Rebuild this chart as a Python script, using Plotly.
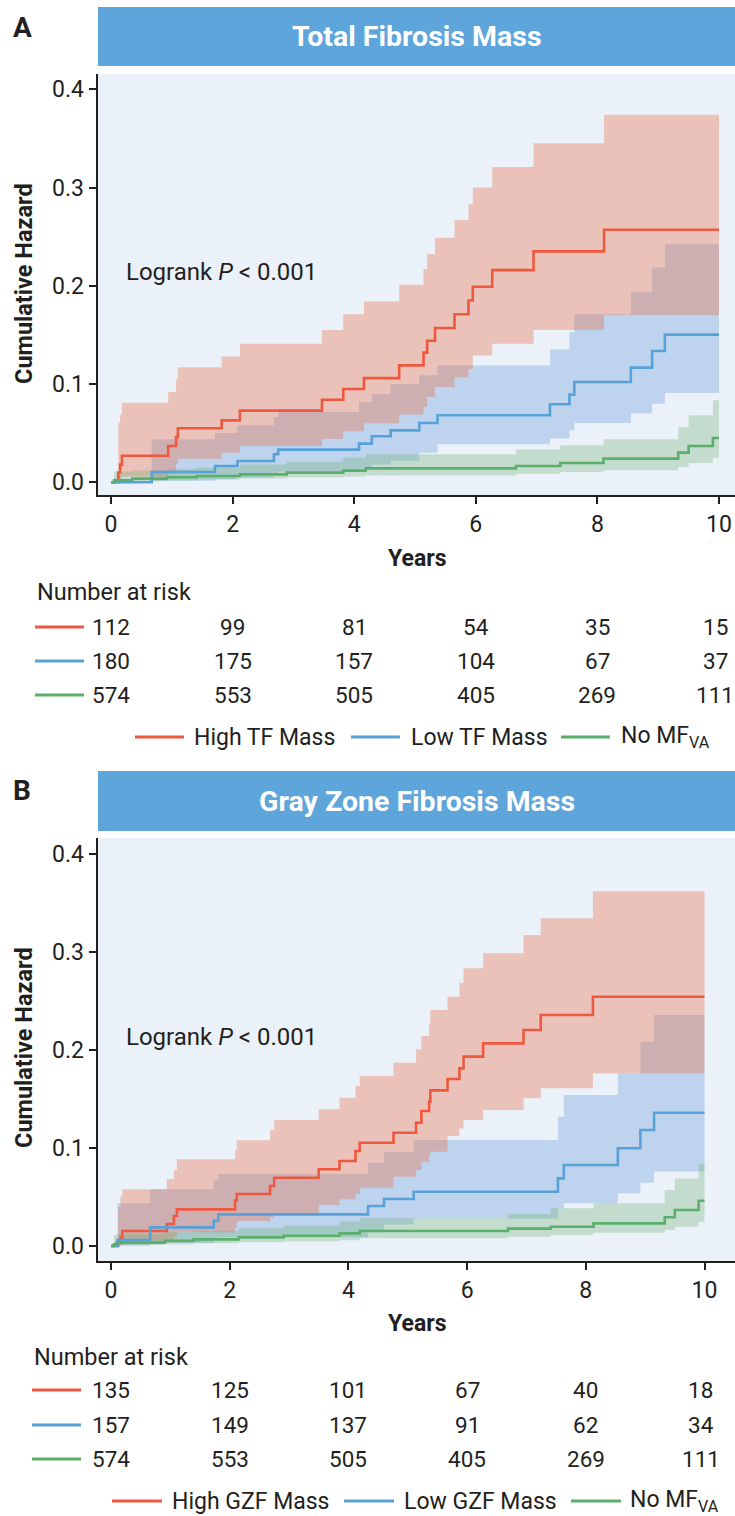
import plotly.graph_objects as go

W, H = 735, 1516
def PX(x): return x / W
def PY(y): return 1 - y / H

FONT = "Roboto, Open Sans, sans-serif"
TXT = "#231f20"

# ---------------- Panel A : Total Fibrosis Mass ----------------
a_high_t  = [0, 0.12, 0.15, 0.18, 0.94, 1.07, 1.10, 1.82, 2.12, 3.47, 3.82, 4.16, 4.74, 5.14, 5.20, 5.33, 5.65, 5.88, 5.95, 6.27, 6.95, 8.11, 10.0]
a_high_h  = [0, 0.010, 0.018, 0.027, 0.037, 0.046, 0.055, 0.063, 0.073, 0.084, 0.095, 0.106, 0.119, 0.132, 0.144, 0.157, 0.171, 0.185, 0.199, 0.216, 0.235, 0.257, 0.257]
a_high_lo = [0, 0.001, 0.003, 0.006, 0.012, 0.018, 0.024, 0.030, 0.037, 0.044, 0.052, 0.060, 0.069, 0.077, 0.087, 0.097, 0.107, 0.115, 0.129, 0.141, 0.155, 0.170, 0.170]
a_high_hi = [0, 0.061, 0.069, 0.081, 0.092, 0.105, 0.117, 0.128, 0.141, 0.155, 0.171, 0.184, 0.201, 0.217, 0.232, 0.249, 0.267, 0.283, 0.300, 0.321, 0.345, 0.374, 0.374]

a_low_t  = [0, 0.67, 1.71, 2.08, 2.68, 2.75, 4.08, 4.29, 4.60, 5.07, 5.37, 7.22, 7.54, 7.62, 8.55, 8.90, 9.11, 10.0]
a_low_h  = [0, 0.0105, 0.0166, 0.0217, 0.0285, 0.0333, 0.0394, 0.0468, 0.0529, 0.0604, 0.0682, 0.0794, 0.0892, 0.1021, 0.1167, 0.1337, 0.1503, 0.1503]
a_low_lo = [0, 0.0015, 0.003, 0.005, 0.008, 0.011, 0.014, 0.018, 0.022, 0.030, 0.0387, 0.0445, 0.0529, 0.0604, 0.0699, 0.080, 0.0909, 0.0909]
a_low_hi = [0, 0.0437, 0.0502, 0.058, 0.0665, 0.0716, 0.0817, 0.0899, 0.0997, 0.1089, 0.119, 0.1354, 0.153, 0.171, 0.194, 0.2185, 0.2422, 0.2422]

a_no_t  = [0, 0.05, 0.35, 0.92, 1.41, 2.12, 2.89, 3.82, 4.19, 6.66, 7.39, 8.10, 9.33, 9.50, 9.90, 10.0]
a_no_h  = [0, 0.002, 0.0037, 0.0051, 0.0064, 0.0081, 0.0098, 0.0119, 0.0142, 0.0166, 0.0197, 0.0241, 0.0302, 0.037, 0.0451, 0.0451]
a_no_lo = [0, 0.0003, 0.001, 0.0018, 0.0028, 0.0038, 0.0048, 0.0058, 0.0068, 0.0088, 0.0105, 0.0122, 0.0156, 0.0197, 0.0247, 0.0247]
a_no_hi = [0, 0.011, 0.012, 0.0135, 0.015, 0.018, 0.021, 0.025, 0.0285, 0.0333, 0.0377, 0.0438, 0.0563, 0.0682, 0.0835, 0.0835]

a_risk_high = [112, 99, 81, 54, 35, 15]
a_risk_low  = [180, 175, 157, 104, 67, 37]
a_risk_no   = [574, 553, 505, 405, 269, 111]
a_names = ["High TF Mass", "Low TF Mass", "No MF<sub>VA</sub>"]

# ---------------- Panel B : Gray Zone Fibrosis Mass ----------------
b_high_t  = [0, 0.12, 0.16, 0.19, 0.94, 1.06, 1.11, 2.09, 2.12, 2.68, 2.75, 3.50, 3.85, 4.12, 4.19, 4.76, 5.14, 5.23, 5.36, 5.38, 5.67, 5.87, 5.94, 6.27, 6.95, 7.24, 8.12, 10.0]
b_high_h  = [0, 0.0044, 0.0085, 0.0153, 0.0224, 0.0306, 0.0374, 0.0463, 0.0531, 0.0612, 0.0697, 0.0783, 0.0867, 0.0969, 0.1054, 0.1156, 0.1258, 0.1378, 0.1473, 0.1588, 0.1704, 0.1813, 0.1932, 0.2068, 0.2204, 0.2357, 0.2544, 0.2544]
b_high_lo = [0, 0.0, 0.001, 0.003, 0.006, 0.010, 0.014, 0.019, 0.0255, 0.029, 0.0316, 0.0418, 0.0476, 0.053, 0.0595, 0.0707, 0.0776, 0.086, 0.0929, 0.0962, 0.1122, 0.120, 0.1286, 0.1388, 0.1507, 0.1609, 0.176, 0.176]
b_high_hi = [0, 0.040, 0.0514, 0.0578, 0.0684, 0.0776, 0.0884, 0.098, 0.108, 0.1184, 0.1286, 0.1395, 0.1513, 0.1633, 0.1735, 0.187, 0.2007, 0.2143, 0.2272, 0.2408, 0.2544, 0.2687, 0.2833, 0.2986, 0.3173, 0.3344, 0.362, 0.362]

b_low_t  = [0, 0.11, 0.66, 1.73, 1.81, 4.33, 4.60, 5.10, 7.53, 7.63, 8.54, 8.92, 9.15, 10.0]
b_low_h  = [0, 0.0061, 0.019, 0.0258, 0.0323, 0.0408, 0.048, 0.0554, 0.069, 0.0827, 0.0997, 0.1184, 0.136, 0.136]
b_low_lo = [0, 0.0003, 0.003, 0.006, 0.009, 0.014, 0.022, 0.028, 0.0384, 0.0435, 0.0537, 0.0646, 0.0759, 0.0759]
b_low_hi = [0, 0.0435, 0.0578, 0.0673, 0.0735, 0.085, 0.0962, 0.1082, 0.132, 0.154, 0.176, 0.2085, 0.2357, 0.2357]

b_no_t  = [0, 0.05, 0.10, 0.91, 1.39, 2.15, 2.91, 3.85, 4.19, 6.69, 7.41, 8.13, 9.33, 9.50, 9.90, 10.0]
b_no_h  = [0, 0.0017, 0.0034, 0.0054, 0.0068, 0.0088, 0.0105, 0.0129, 0.0153, 0.0177, 0.0197, 0.0231, 0.0293, 0.0367, 0.0462, 0.0462]
b_no_lo = [0, 0.0003, 0.001, 0.0018, 0.0028, 0.0038, 0.0048, 0.0058, 0.0078, 0.0095, 0.0112, 0.0136, 0.0163, 0.0197, 0.0248, 0.0248]
b_no_hi = [0, 0.011, 0.012, 0.014, 0.015, 0.018, 0.021, 0.025, 0.0282, 0.0327, 0.0384, 0.0435, 0.0571, 0.069, 0.0837, 0.0837]

b_risk_high = [135, 125, 101, 67, 40, 18]
b_risk_low  = [157, 149, 137, 91, 62, 34]
b_risk_no   = [574, 553, 505, 405, 269, 111]
b_names = ["High GZF Mass", "Low GZF Mass", "No MF<sub>VA</sub>"]

risk_times = [0, 2, 4, 6, 8, 10]
x_ticks = [0, 2, 4, 6, 8, 10]
y_ticks = [0.0, 0.1, 0.2, 0.3, 0.4]

RED, BLUE, GREEN = "rgb(239,88,62)", "rgb(88,160,216)", "rgb(90,175,108)"
RED_F, BLUE_F, GREEN_F = "rgba(235,97,49,0.32)", "rgba(106,158,218,0.35)", "rgba(105,171,102,0.30)"

fig = go.Figure()

def add_panel(xa, ya, high, low, no):
    for (t, h, lo, hi), fc in [(low, BLUE_F), (high, RED_F), (no, GREEN_F)]:
        fig.add_trace(go.Scatter(x=t, y=lo, mode="lines", line=dict(width=0, shape="hv"),
                                 xaxis=xa, yaxis=ya, showlegend=False, hoverinfo="skip"))
        fig.add_trace(go.Scatter(x=t, y=hi, mode="lines", line=dict(width=0, shape="hv"),
                                 fill="tonexty", fillcolor=fc,
                                 xaxis=xa, yaxis=ya, showlegend=False, hoverinfo="skip"))
    for (t, h, lo, hi), c in [(high, RED), (low, BLUE), (no, GREEN)]:
        fig.add_trace(go.Scatter(x=t, y=h, mode="lines", line=dict(width=2.6, shape="hv", color=c),
                                 xaxis=xa, yaxis=ya, showlegend=False))

add_panel("x", "y", (a_high_t, a_high_h, a_high_lo, a_high_hi),
          (a_low_t, a_low_h, a_low_lo, a_low_hi), (a_no_t, a_no_h, a_no_lo, a_no_hi))
add_panel("x2", "y2", (b_high_t, b_high_h, b_high_lo, b_high_hi),
          (b_low_t, b_low_h, b_low_lo, b_low_hi), (b_no_t, b_no_h, b_no_lo, b_no_hi))

axis_common = dict(showgrid=False, zeroline=False, showline=True, linecolor="#231f20", linewidth=2,
                   ticks="outside", ticklen=7, tickwidth=2, tickcolor="#231f20",
                   tickfont=dict(family=FONT, size=23, color=TXT))

# geometry in reference pixels
xA0, xA10 = 111, 719
yA0, yA04 = 482.3, 89.3
pa_top, pa_bot = 74, 495
xB0, xB10 = 111, 704.5
yB0, yB04 = 1246, 854
pb_top, pb_bot = 838, 1261
left_px, right_px = 97.5, 735

def xr(x0, x10):
    s = (x10 - x0) / 10
    return [(left_px - x0) / s, (right_px - x0) / s]

def yr(y0, y4, top, bot):
    s = (y0 - y4) / 0.4
    return [(y0 - bot) / s, (y0 - top) / s]

fig.update_layout(
    xaxis=dict(axis_common, domain=[PX(left_px), 1], range=xr(xA0, xA10), anchor="y",
               tickvals=x_ticks),
    yaxis=dict(axis_common, domain=[PY(pa_bot), PY(pa_top)], range=yr(yA0, yA04, pa_top, pa_bot),
               anchor="x", tickvals=y_ticks, tickformat=".1f"),
    xaxis2=dict(axis_common, domain=[PX(left_px), 1], range=xr(xB0, xB10), anchor="y2",
                tickvals=x_ticks),
    yaxis2=dict(axis_common, domain=[PY(pb_bot), PY(pb_top)], range=yr(yB0, yB04, pb_top, pb_bot),
                anchor="x2", tickvals=y_ticks, tickformat=".1f"),
    width=W, height=H, margin=dict(l=0, r=0, t=0, b=0),
    paper_bgcolor="white", plot_bgcolor="#EBF1F9",
    font=dict(family=FONT, color=TXT),
    showlegend=False,
)

shapes = []
ann = []

def panel_decor(letter, title, bar_top, bar_bot, ylab_cy, logrank_y, years_y,
                nar_x, nar_y, rows_y, xref, risks, legend_y, leg_lines, leg_texts, names):
    ann.append(dict(text=f"<b>{letter}</b>", x=PX(11), y=PY(bar_top + 20), xref="paper",
                    yref="paper", xanchor="left", yanchor="middle", showarrow=False,
                    font=dict(size=28, color=TXT, family=FONT)))
    shapes.append(dict(type="rect", xref="paper", yref="paper", x0=PX(98), x1=1,
                       y0=PY(bar_bot), y1=PY(bar_top), fillcolor="#5DA5DA", line=dict(width=0),
                       layer="below"))
    ann.append(dict(text=f"<b>{title}</b>", x=PX(416.5), y=PY((bar_top + bar_bot) / 2), xref="paper",
                    yref="paper", xanchor="center", yanchor="middle", showarrow=False,
                    font=dict(size=28.5, color="white", family=FONT)))
    ann.append(dict(text="<b>Cumulative Hazard</b>", x=PX(24), y=PY(ylab_cy), xref="paper", yref="paper",
                    textangle=-90, xanchor="center", yanchor="middle", showarrow=False,
                    font=dict(size=23.5, color=TXT, family=FONT)))
    ann.append(dict(text="Logrank <i>P</i> < 0.001", x=PX(124), y=PY(logrank_y), xref="paper", yref="paper",
                    xanchor="left", yanchor="middle", showarrow=False,
                    font=dict(size=24, color=TXT, family=FONT)))
    ann.append(dict(text="<b>Years</b>", x=PX(416.5), y=PY(years_y), xref="paper", yref="paper",
                    xanchor="center", yanchor="middle", showarrow=False,
                    font=dict(size=23, color=TXT, family=FONT)))
    ann.append(dict(text="Number at risk", x=PX(nar_x), y=PY(nar_y), xref="paper", yref="paper",
                    xanchor="left", yanchor="middle", showarrow=False,
                    font=dict(size=23.5, color=TXT, family=FONT)))
    for ry, vals, col in zip(rows_y, risks, [RED, BLUE, GREEN]):
        shapes.append(dict(type="line", xref="paper", yref="paper", x0=PX(nar_x), x1=PX(nar_x + 49),
                           y0=PY(ry), y1=PY(ry), line=dict(color=col, width=3)))
        for t, v in zip(risk_times, vals):
            ann.append(dict(text=str(v), x=t, y=PY(ry), xref=xref, yref="paper",
                            xanchor="center", yanchor="middle", showarrow=False,
                            xshift=-4 if t == risk_times[-1] else 0,
                            font=dict(size=22.5, color=TXT, family=FONT)))
    for (lx0, lx1), tx, nm, col in zip(leg_lines, leg_texts, names, [RED, BLUE, GREEN]):
        shapes.append(dict(type="line", xref="paper", yref="paper", x0=PX(lx0), x1=PX(lx1),
                           y0=PY(legend_y), y1=PY(legend_y), line=dict(color=col, width=3)))
        ann.append(dict(text=nm, x=PX(tx), y=PY(legend_y), xref="paper", yref="paper",
                        xanchor="left", yanchor="middle", showarrow=False,
                        font=dict(size=23, color=TXT, family=FONT)))

panel_decor("A", "Total Fibrosis Mass", 7, 66, 284, 272, 558, 35, 592, [627, 661, 695], "x",
            [a_risk_high, a_risk_low, a_risk_no], 737,
            [(135, 184), (351, 400), (561, 610)], [192, 409, 619], a_names)
panel_decor("B", "Gray Zone Fibrosis Mass", 771, 831, 1048, 1037, 1323, 32, 1357, [1390, 1425, 1459], "x2",
            [b_risk_high, b_risk_low, b_risk_no], 1501,
            [(112, 162), (344, 394), (571, 621)], [170, 402, 628], b_names)

fig.update_layout(shapes=shapes, annotations=ann)
fig.write_html("out.html", config={"displayModeBar": False},
               post_script="document.body.style.margin='0';document.body.style.overflow='hidden';")
